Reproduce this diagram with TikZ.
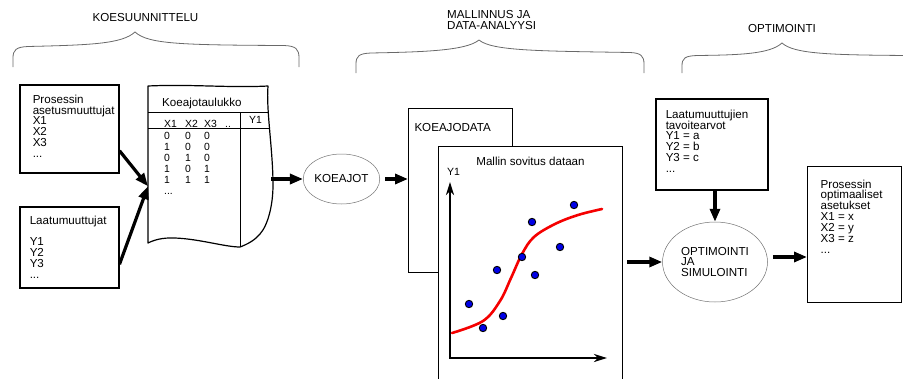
\documentclass[tikz,border=0pt]{standalone}
\usepackage{fontspec}
\setmainfont{Liberation Sans}
\usetikzlibrary{arrows.meta, positioning, calc, shapes.geometric}
\definecolor{BraceGrey}{RGB}{105,105,105}
\definecolor{OvalGrey}{RGB}{115,115,115}
\definecolor{FitRed}{RGB}{245,0,0}
\definecolor{DotBlue}{RGB}{0,0,230}
\newcommand{\boxfont}{\fontsize{11.6}{10.9}\selectfont}
\newcommand{\cellfont}{\fontsize{10.4}{10}\selectfont}

\tikzset{
  panel/.style={draw=black, line width=1.5pt, anchor=north west, fill=white, inner sep=0pt, font=\boxfont},
  datapanel/.style={panel, line width=1pt},
  oval/.style={ellipse, draw=OvalGrey, line width=0.5pt, fill=white, inner sep=0pt, font=\boxfont},
  phase/.style={draw=BraceGrey, line width=0.8pt},
  phasetitle/.style={font=\boxfont, align=left, inner sep=0pt},
  flow/.style={line width=3.2pt, -{Triangle[length=13pt,width=10pt]}},
  cell/.style={anchor=base west, inner sep=0pt, font=\cellfont},
  axis/.style={line width=2.4pt, {Stealth[length=13pt,width=8pt,inset=4pt]}-{Stealth[length=13pt,width=8pt,inset=4pt]}},
  fitline/.style={FitRed, line width=2.6pt, line cap=round},
  point/.style={fill=DotBlue, draw=black, line width=0.9pt}
}

\begin{document}
\begin{tikzpicture}[x=1pt, y=-1pt]
  \useasboundingbox (0,0) rectangle (903,378);
  \clip (0,0) rectangle (903,378);

  % phase titles and braces
  \node (suunnittelu) [phasetitle] at (145.5,18) {KOESUUNNITTELU};
  \node (mallinnus) [phasetitle, anchor=north west] at (447,10.5) {MALLINNUS JA\\DATA-ANALYYSI};
  \node (optimointi) [phasetitle] at (782,29) {OPTIMOINTI};

  \draw[phase] (13,67) -- (13,58) .. controls (13,50) and (16,47) .. (28,46.5)
    .. controls (90,45) and (122,44) .. (135,32)
    .. controls (148,44) and (180,45) .. (284,45.5)
    .. controls (296,46) and (299,49) .. (299,58) -- (299,67);
  \draw[phase] (356,73) -- (356,64) .. controls (356,56) and (359,53.5) .. (371,53)
    .. controls (420,52) and (466,51) .. (479,40)
    .. controls (492,51) and (540,51) .. (630,52.5)
    .. controls (641,53) and (644,56) .. (644,64) -- (644,73);
  \draw[phase] (682,73) -- (682,66) .. controls (682,58) and (685,56) .. (697,55.5)
    .. controls (740,55) and (770,54) .. (782,43)
    .. controls (794,54) and (830,55) .. (910,55.5);

  % input boxes
  \node (asetus) [panel, inner xsep=13pt, inner ysep=10pt] at (19,84)
    {\parbox[t][68pt][t]{73pt}{Prosessin\\asetusmuuttujat\\X1\\X2\\X3\\...}};
  \node (laatu) [panel, inner xsep=10pt, inner ysep=9pt] at (19,206)
    {\parbox[t][63pt][t]{79pt}{Laatumuuttujat\\[10.5pt]Y1\\Y2\\Y3\\...}};

  % run table with torn edge
  \node (taulukko) [minimum width=120pt, minimum height=160pt, anchor=north west, inner sep=0pt] at (148,86) {};
  \draw[line width=1.2pt, line join=round] (148,86) .. controls (190,84) and (230,88) .. (268,86)
    .. controls (266,110) and (273,150) .. (273,185)
    .. controls (273,205) and (268,225) .. (260,234)
    .. controls (255,240) and (248,244) .. (240,247)
    .. controls (225,247) and (200,239) .. (175,238)
    .. controls (162,237.5) and (154,240) .. (148,243) -- cycle;
  \draw[line width=1pt] (148,112) -- (268,112);
  \draw[line width=0.8pt] (148,128.5) -- (269,128.5);
  \draw[line width=1pt] (240,112) -- (240,247);
  \node (taulukkonimi) [cell, font=\boxfont] at (162,106) {Koeajotaulukko};
  \node (vaste) [cell] at (249,123) {Y1};
  \foreach \h/\x [count=\i] in {X1/164, X2/185, X3/204, ../225}
    \node (sarake\i) [cell] at (\x,127) {\h};
  \foreach \a/\b/\c [count=\r] in {0/0/0, 1/0/0, 0/1/0, 1/0/1, 1/1/1} {
    \node (r\r-1) [cell] at (164,128.6+11*\r) {\a};
    \node (r\r-2) [cell] at (185,128.6+11*\r) {\b};
    \node (r\r-3) [cell] at (204,128.6+11*\r) {\c};
  }
  \node (rivit) [cell] at (164,194.6) {...};

  % test runs
  \node (koeajot) [oval, minimum width=73pt, minimum height=50pt] at (341.5,179) {KOEAJOT};

  % data and model fit
  \node (data) [datapanel, inner xsep=6pt, inner ysep=15pt] at (408,108)
    {\parbox[t][134pt][t]{92pt}{KOEAJODATA}};
  \node (malli) [datapanel, inner xsep=0pt, inner ysep=11pt] at (438,146)
    {\parbox[t][238pt][t]{184pt}{\centering Mallin sovitus dataan}};
  \node (yakseli) [cell, font=\fontsize{10.5}{10.5}\selectfont] at (447,175.5) {Y1};
  \draw[axis] (450,182) -- (450,358) -- (607,358);
  \draw[fitline] plot[smooth, tension=0.6] coordinates
    {(452,333) (483,321) (500,301) (511,278) (522,254) (534,237) (555,224) (578,215) (602,209)};
  \foreach \p in {(469,304), (483,328), (497,270), (503,316), (522,257),
                  (532,222), (535,275), (560,247), (574,205)}
    \draw[point] \p circle (3.7);

  % optimisation
  \node (tavoite) [panel, inner xsep=10pt, inner ysep=11pt] at (655,98)
    {\parbox[t][69pt][t]{92pt}{Laatumuuttujien\\tavoitearvot\\Y1 = a\\Y2 = b\\Y3 = c\\...}};
  \node (optsim) [oval, minimum width=105pt, minimum height=80pt, align=left] at (715,262)
    {OPTIMOINTI\\JA\\SIMULOINTI};
  \node (optimal) [panel, line width=1.3pt, inner xsep=13pt, inner ysep=13pt] at (807,166)
    {\parbox[t][110pt][t]{68pt}{Prosessin\\optimaaliset\\asetukset\\X1 = x\\X2 = y\\X3 = z\\...}};

  % flow arrows
  \draw[flow] ([yshift=-22pt]asetus.east) -- ([yshift=-20pt]taulukko.west);
  \draw[flow] ([yshift=-17pt]laatu.east) -- ([yshift=-20pt]taulukko.west);
  \draw[flow] ($(taulukko.east |- koeajot.west)+(3,0)$) -- (koeajot.west);
  \draw[flow] ($(koeajot.east)+(5,0)$) -- (koeajot.east -| data.west);
  \draw[flow] ($(malli.east |- optsim.west)+(4,0)$) -- (optsim.west);
  \draw[flow] (tavoite.south -| optsim.north) -- (optsim.north);
  \draw[flow] ($(optsim.east)+(5,-5)$) -- ($(optsim.east -| optimal.west)+(0,-5)$);
\end{tikzpicture}
\end{document}
